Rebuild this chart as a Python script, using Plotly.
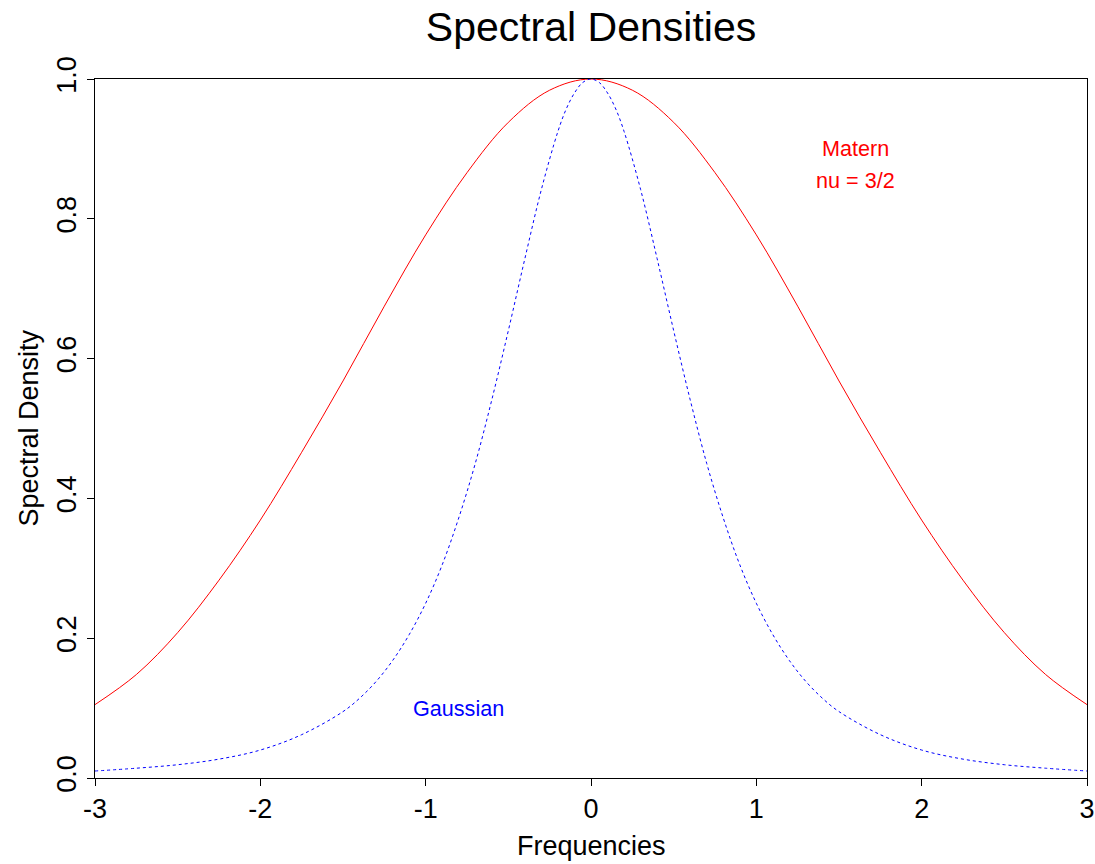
import plotly.graph_objects as go

# Frequencies and spectral density values
red_freq = [-3.0, -2.75, -2.5, -2.25, -2.0, -1.75, -1.5, -1.25, -1.0, -0.75, -0.5, -0.25, 0.0,
            0.25, 0.5, 0.75, 1.0, 1.25, 1.5, 1.75, 2.0, 2.25, 2.5, 2.75, 3.0]
red_density = [0.105, 0.148, 0.208, 0.283, 0.369, 0.466, 0.568, 0.675, 0.777, 0.866, 0.938, 0.984, 1.0,
               0.984, 0.938, 0.866, 0.777, 0.675, 0.568, 0.466, 0.369, 0.283, 0.208, 0.148, 0.105]

blue_freq = [-3.0, -2.75, -2.5, -2.25, -2.0, -1.75, -1.5, -1.4, -1.3, -1.2, -1.1, -1.0, -0.9, -0.8,
             -0.7, -0.6, -0.5, -0.4, -0.3, -0.2, -0.15, -0.1, -0.05, 0.0, 0.05, 0.1, 0.15, 0.2,
             0.3, 0.4, 0.5, 0.6, 0.7, 0.8, 0.9, 1.0, 1.1, 1.2, 1.3, 1.4, 1.5, 1.75, 2.0, 2.25,
             2.5, 2.75, 3.0]
blue_density = [0.010, 0.014, 0.019, 0.027, 0.040, 0.062, 0.095, 0.114, 0.138, 0.168, 0.205, 0.250,
                0.305, 0.372, 0.450, 0.541, 0.640, 0.743, 0.842, 0.925, 0.957, 0.980, 0.995, 1.0,
                0.995, 0.980, 0.957, 0.925, 0.842, 0.743, 0.640, 0.541, 0.450, 0.372, 0.305, 0.250,
                0.205, 0.168, 0.138, 0.114, 0.095, 0.062, 0.040, 0.027, 0.019, 0.014, 0.010]

x_ticks = [-3, -2, -1, 0, 1, 2, 3]
x_tick_labels = ["-3", "-2", "-1", "0", "1", "2", "3"]
y_ticks = [0.0, 0.2, 0.4, 0.6, 0.8, 1.0]
y_tick_labels = ["0.0", "0.2", "0.4", "0.6", "0.8", "1.0"]

FONT = "Liberation Sans, Arial, Helvetica, sans-serif"

fig = go.Figure()
fig.add_trace(go.Scatter(x=red_freq, y=red_density, mode="lines",
                         line=dict(color="#FF0000", width=1, shape="spline", smoothing=1.0),
                         showlegend=False, hoverinfo="skip"))
fig.add_trace(go.Scatter(x=blue_freq, y=blue_density, mode="lines",
                         line=dict(color="#0000FF", width=1, dash="dot", shape="spline", smoothing=1.0),
                         showlegend=False, hoverinfo="skip"))

fig.add_annotation(x=1.6, y=0.9, text="Matern", showarrow=False,
                   font=dict(family=FONT, size=21.6, color="#FF0000"))
fig.add_annotation(x=1.6, y=0.855, text="nu = 3/2", showarrow=False,
                   font=dict(family=FONT, size=21.6, color="#FF0000"))
fig.add_annotation(x=-0.8, y=0.1, text="Gaussian", showarrow=False,
                   font=dict(family=FONT, size=21.6, color="#0000FF"))

fig.add_annotation(xref="paper", yref="paper", x=0.5, y=-0.097, yanchor="middle",
                   text="Frequencies", showarrow=False,
                   font=dict(family=FONT, size=27, color="black"))
fig.add_annotation(xref="paper", yref="paper", x=-0.0675, y=0.5, xanchor="center",
                   text="Spectral Density", showarrow=False, textangle=-90,
                   font=dict(family=FONT, size=27, color="black"))

fig.update_layout(
    width=1095, height=864,
    margin=dict(l=95, r=8, t=79, b=86, autoexpand=False),
    paper_bgcolor="white", plot_bgcolor="white",
    title=dict(text="Spectral Densities", x=(95 + 1087) / 2 / 1095, xanchor="center", y=0.969,
               yanchor="middle", yref="container",
               font=dict(family=FONT, size=41, color="black")),
    font=dict(family=FONT, size=27, color="black"),
)
fig.update_xaxes(range=[-3, 3], tickmode="array", tickvals=x_ticks, ticktext=x_tick_labels,
                 ticks="outside", ticklen=7, tickwidth=1, tickcolor="black", automargin=False,
                 showline=True, linecolor="black", linewidth=1, mirror=True,
                 showgrid=False, zeroline=False, tickfont=dict(size=27))
fig.update_yaxes(range=[0, 1], tickmode="array", tickvals=y_ticks, ticktext=y_tick_labels,
                 ticks="outside", ticklen=7, tickwidth=1, tickcolor="black", tickangle=-90,
                 automargin=False,
                 showline=True, linecolor="black", linewidth=1, mirror=True,
                 showgrid=False, zeroline=False, tickfont=dict(size=27))

fig.write_html("out.html")
